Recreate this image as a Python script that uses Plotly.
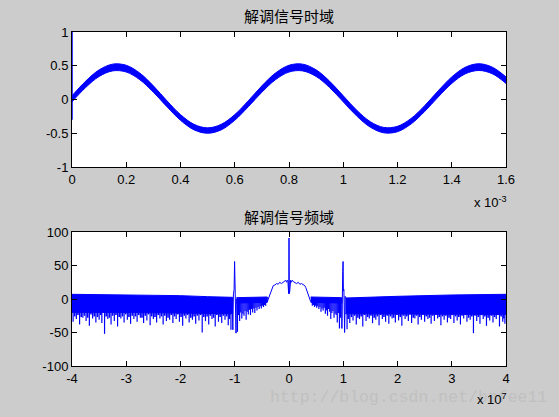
import plotly.graph_objects as go

# ---------------- top panel: demodulated signal, time domain (x in units of 1e-3 s)
t_ms = [0.00, 0.05, 0.10, 0.15, 0.20, 0.25, 0.30, 0.35, 0.40, 0.45, 0.50, 0.55, 0.60,
        0.65, 0.70, 0.75, 0.80, 0.85, 0.90, 0.95, 1.00, 1.05, 1.10, 1.15, 1.20, 1.25,
        1.30, 1.35, 1.40, 1.45, 1.50, 1.55, 1.60]
sig_upper = [0.055, 0.270, 0.439, 0.524, 0.507, 0.391, 0.202, -0.019, -0.224, -0.368, -0.420,
             -0.368, -0.224, -0.019, 0.202, 0.391, 0.507, 0.524, 0.439, 0.270, 0.055, -0.160,
             -0.329, -0.414, -0.397, -0.281, -0.092, 0.129, 0.334, 0.478, 0.530, 0.478, 0.334]
sig_lower = [-0.035, 0.176, 0.341, 0.424, 0.407, 0.293, 0.108, -0.107, -0.308, -0.450, -0.500,
             -0.450, -0.308, -0.107, 0.108, 0.293, 0.407, 0.424, 0.341, 0.176, -0.035, -0.246,
             -0.411, -0.494, -0.477, -0.363, -0.178, 0.037, 0.238, 0.380, 0.430, 0.380, 0.238]
start_t = [0.0, 0.0]
start_v = [-0.30, 1.0]
top_xticks = [0, 0.2, 0.4, 0.6, 0.8, 1.0, 1.2, 1.4, 1.6]
top_xlabels = ["0", "0.2", "0.4", "0.6", "0.8", "1", "1.2", "1.4", "1.6"]
top_yticks = [-1, -0.5, 0, 0.5, 1]
top_ylabels = ["-1", "-0.5", "0", "0.5", "1"]

# ---------------- bottom panel: spectrum (x in units of 1e7 Hz)
left_x = [-4.0, -3.0, -2.0, -1.5, -1.04]
left_top = [7, 6.5, 5, 3.5, 2.5]
left_bot = [-20, -20, -21, -21, -22]
midl_x = [-0.97, -0.7, -0.40]
midl_top = [2, 3, 3]
midl_bot = [-6, -6, -5]
midr_x = [0.40, 0.7, 0.97]
midr_top = [3, 3, 2]
midr_bot = [-5, -6, -6]
right_x = [1.04, 1.5, 2.0, 3.0, 4.0]
right_top = [1.5, 3, 4, 6, 7]
right_bot = [-22, -22, -22, -23, -23]

fringe_left_x = [-3.98, -3.92, -3.86, -3.80, -3.74, -3.68, -3.62, -3.56, -3.50, -3.45, -3.40,
                 -3.34, -3.28, -3.22, -3.16, -3.10, -3.04, -2.98, -2.92, -2.86, -2.80, -2.74,
                 -2.68, -2.62, -2.56, -2.50, -2.44, -2.38, -2.32, -2.26, -2.20, -2.14, -2.08,
                 -2.02, -1.96, -1.90, -1.84, -1.78, -1.72, -1.66, -1.60, -1.54, -1.48, -1.42,
                 -1.36, -1.30, -1.24, -1.18, -1.12, -1.07]
fringe_left_y = [-34, -30, -38, -28, -33, -40, -29, -35, -31, -36, -52, -30, -38, -33, -41, -29,
                 -35, -31, -37, -30, -34, -28, -36, -32, -39, -30, -35, -29, -38, -33, -31, -36,
                 -30, -34, -40, -29, -35, -31, -37, -32, -50, -33, -38, -30, -41, -34, -36, -31,
                 -39, -46]
fringe_left2_x = [-3.95, -3.89, -3.83, -3.77, -3.71, -3.65, -3.59, -3.53, -3.47, -3.37, -3.31,
                  -3.25, -3.19, -3.13, -3.07, -3.01, -2.95, -2.89, -2.83, -2.77, -2.71, -2.65,
                  -2.59, -2.53, -2.47, -2.41, -2.35, -2.29, -2.23, -2.17, -2.11, -2.05, -1.99,
                  -1.93, -1.87, -1.81, -1.75, -1.69, -1.63, -1.57, -1.51, -1.45, -1.39, -1.33,
                  -1.27, -1.21, -1.15, -1.10]
fringe_left2_y = [-26, -24, -27, -25, -28, -23, -26, -27, -24, -26, -28, -25, -24, -27, -26,
                  -23, -27, -25, -26, -24, -28, -25, -23, -26, -27, -24, -26, -25, -28, -24,
                  -26, -23, -27, -25, -24, -28, -26, -25, -24, -27, -26, -25, -28, -24, -27,
                  -25, -26, -30]
fringe_midl_x = [-0.95, -0.93, -0.91, -0.89, -0.87, -0.85, -0.83, -0.81, -0.79, -0.77, -0.75,
                 -0.73, -0.71, -0.69, -0.67, -0.65, -0.63, -0.61, -0.59, -0.57, -0.55, -0.53,
                 -0.51, -0.49, -0.47, -0.45, -0.43]
fringe_midl_y = [-49, -24, -33, -20, -29, -22, -25, -18, -31, -19, -23, -16, -24, -15, -20,
                 -14, -21, -13, -17, -12, -15, -11, -14, -10, -12, -9, -10]
fringe_midr_x = [0.43, 0.45, 0.47, 0.49, 0.51, 0.53, 0.55, 0.57, 0.59, 0.61, 0.63, 0.65, 0.67,
                 0.69, 0.71, 0.73, 0.75, 0.77, 0.79, 0.81, 0.83, 0.85, 0.87, 0.89, 0.91, 0.93,
                 0.95]
fringe_midr_y = [-10, -9, -12, -10, -13, -11, -15, -12, -19, -14, -17, -13, -22, -17, -25,
                 -15, -19, -30, -21, -18, -28, -22, -24, -35, -21, -44, -28]
fringe_right_x = [1.07, 1.12, 1.18, 1.24, 1.30, 1.36, 1.42, 1.48, 1.54, 1.60, 1.66, 1.72, 1.78,
                  1.84, 1.90, 1.96, 2.02, 2.08, 2.14, 2.20, 2.26, 2.32, 2.38, 2.44, 2.50, 2.56,
                  2.62, 2.68, 2.74, 2.80, 2.86, 2.92, 2.98, 3.04, 3.10, 3.16, 3.22, 3.28, 3.34,
                  3.40, 3.46, 3.52, 3.58, 3.64, 3.70, 3.76, 3.82, 3.88, 3.94, 3.98]
fringe_right_y = [-45, -36, -32, -38, -30, -41, -33, -29, -36, -31, -39, -30, -34, -37, -29,
                  -35, -32, -40, -30, -33, -36, -29, -38, -31, -34, -30, -37, -33, -29, -39,
                  -31, -35, -30, -36, -32, -38, -29, -34, -31, -51, -33, -37, -30, -40, -32,
                  -35, -30, -41, -34, -37]
fringe_right2_x = [1.09, 1.15, 1.21, 1.27, 1.33, 1.39, 1.45, 1.51, 1.57, 1.63, 1.69, 1.75, 1.81,
                   1.87, 1.93, 1.99, 2.05, 2.11, 2.17, 2.23, 2.29, 2.35, 2.41, 2.47, 2.53, 2.59,
                   2.65, 2.71, 2.77, 2.83, 2.89, 2.95, 3.01, 3.07, 3.13, 3.19, 3.25, 3.31, 3.37,
                   3.43, 3.49, 3.55, 3.61, 3.67, 3.73, 3.79, 3.85, 3.91, 3.96]
fringe_right2_y = [-30, -27, -25, -28, -26, -24, -27, -25, -28, -26, -24, -27, -25, -26, -28,
                   -24, -27, -25, -26, -23, -28, -25, -27, -24, -26, -28, -25, -24, -27, -26,
                   -25, -28, -24, -26, -27, -25, -24, -28, -26, -25, -27, -24, -26, -28, -25,
                   -27, -24, -26, -29]

near_m1_x = [-1.05, -1.035, -1.025, -1.012, -1.003, -0.997, -0.99, -0.985, -0.977, -0.97]
near_m1_y = [2, -46, 6, 14, 56, 12, 41, 20, -51, 0]
near_p1_x = [0.97, 0.975, 0.982, 0.99, 0.997, 1.003, 1.012, 1.025, 1.035, 1.05]
near_p1_y = [0, -44, -8, 41, 56, 12, 14, -50, 4, 2]

center_x = [-0.40, -0.37, -0.35, -0.33, -0.31, -0.29, -0.26, -0.23, -0.20, -0.17, -0.14, -0.11,
            -0.08, -0.06, -0.045, -0.03, -0.02, -0.012, -0.006, -0.003, 0.0, 0.003, 0.006,
            0.012, 0.02, 0.03, 0.045, 0.06, 0.08, 0.11, 0.14, 0.17, 0.20, 0.23, 0.26, 0.29,
            0.31, 0.33, 0.35, 0.37, 0.40]
center_y = [-4, 3, 9, 12, 17, 20, 21, 23, 22, 25, 23, 25, 26, 28, 25, 28, 26, 10, 8, 30, 91,
            30, 8, 10, 26, 28, 25, 28, 26, 25, 23, 25, 22, 23, 21, 20, 17, 12, 9, 3, -4]

bot_xticks = [-4, -3, -2, -1, 0, 1, 2, 3, 4]
bot_xlabels = ["-4", "-3", "-2", "-1", "0", "1", "2", "3", "4"]
bot_yticks = [-100, -50, 0, 50, 100]
bot_ylabels = ["-100", "-50", "0", "50", "100"]

BLUE = "#0000ff"
W, H = 559, 417

fig = go.Figure()

# top panel
fig.add_trace(go.Scatter(x=t_ms, y=sig_upper, mode="lines", line=dict(color=BLUE, width=1, shape="spline"),
                         xaxis="x", yaxis="y", hoverinfo="skip"))
fig.add_trace(go.Scatter(x=t_ms, y=sig_lower, mode="lines", line=dict(color=BLUE, width=1, shape="spline"),
                         fill="tonexty", fillcolor=BLUE, xaxis="x", yaxis="y", hoverinfo="skip"))
fig.add_trace(go.Scatter(x=start_t, y=start_v, mode="lines", line=dict(color=BLUE, width=1.5),
                         xaxis="x", yaxis="y", hoverinfo="skip"))


def band(xs, top, bot):
    return go.Scatter(x=xs + xs[::-1], y=top + bot[::-1], mode="lines", fill="toself",
                      fillcolor=BLUE, line=dict(color=BLUE, width=1), xaxis="x2", yaxis="y2",
                      hoverinfo="skip")


def fringe(xs, ys, base, width=1.2):
    px, py = [], []
    for x, y in zip(xs, ys):
        px += [x, x, None]
        py += [base, y, None]
    return go.Scatter(x=px, y=py, mode="lines", line=dict(color=BLUE, width=width),
                      xaxis="x2", yaxis="y2", hoverinfo="skip")


fig.add_trace(band(left_x, left_top, left_bot))
fig.add_trace(band(midl_x, midl_top, midl_bot))
fig.add_trace(band(midr_x, midr_top, midr_bot))
fig.add_trace(band(right_x, right_top, right_bot))
fig.add_trace(fringe(fringe_left_x, fringe_left_y, -18))
fig.add_trace(fringe(fringe_left2_x, fringe_left2_y, -18, 1.6))
fig.add_trace(fringe(fringe_midl_x, fringe_midl_y, -4))
fig.add_trace(fringe(fringe_midr_x, fringe_midr_y, -4))
fig.add_trace(fringe(fringe_right_x, fringe_right_y, -18))
fig.add_trace(fringe(fringe_right2_x, fringe_right2_y, -18, 1.6))
for xs, ys in [(near_m1_x, near_m1_y), (near_p1_x, near_p1_y), (center_x, center_y)]:
    fig.add_trace(go.Scatter(x=xs, y=ys, mode="lines", line=dict(color=BLUE, width=1),
                             xaxis="x2", yaxis="y2", hoverinfo="skip"))

tickfont = dict(family="Liberation Sans, Arial, sans-serif", size=13, color="black")
axis_common = dict(showline=True, linecolor="black", linewidth=1, mirror="ticks", ticks="inside",
                   ticklen=5, tickcolor="black", showgrid=False, zeroline=False, tickfont=tickfont,
                   automargin=False)

xdom = [72 / W, 506 / W]
fig.update_layout(
    width=W, height=H, margin=dict(l=0, r=0, t=0, b=0, autoexpand=False),
    paper_bgcolor="#cccccc", plot_bgcolor="white", showlegend=False,
    xaxis=dict(domain=xdom, range=[0, 1.6], tickvals=top_xticks, ticktext=top_xlabels,
               anchor="y", **axis_common),
    yaxis=dict(domain=[1 - 167 / H, 1 - 32 / H], range=[-1, 1], tickvals=top_yticks,
               ticktext=top_ylabels, anchor="x", **axis_common),
    xaxis2=dict(domain=xdom, range=[-4, 4], tickvals=bot_xticks, ticktext=bot_xlabels,
                anchor="y2", **axis_common),
    yaxis2=dict(domain=[1 - 366 / H, 1 - 232 / H], range=[-100, 100], tickvals=bot_yticks,
                ticktext=bot_ylabels, anchor="x2", **axis_common),
)

cjk = dict(family="Noto Sans CJK SC", size=15, color="black")
lab = dict(family="Liberation Sans, Arial, sans-serif", size=13, color="black")
fig.add_annotation(text="http://blog.csdn.net/bzfee11", x=268 / W, y=1 - 397 / H, xref="paper",
                   yref="paper", showarrow=False, xanchor="left", yanchor="middle",
                   font=dict(family="Liberation Mono, monospace", size=16.5, color="#c0c0c0"))
fig.add_annotation(text="解调信号时域", x=289 / W, y=1 - 16 / H, xref="paper", yref="paper",
                   showarrow=False, font=cjk, xanchor="center", yanchor="middle")
fig.add_annotation(text="解调信号频域", x=289 / W, y=1 - 216 / H, xref="paper", yref="paper",
                   showarrow=False, font=cjk, xanchor="center", yanchor="middle")
fig.add_annotation(text="x 10<sup>-3</sup>", x=472 / W, y=1 - 202 / H, xref="paper", yref="paper",
                   showarrow=False, font=lab, xanchor="left", yanchor="middle")
fig.add_annotation(text="x 10<sup>7</sup>", x=475 / W, y=1 - 399 / H, xref="paper", yref="paper",
                   showarrow=False, font=lab, xanchor="left", yanchor="middle")

fig.write_html("out.html", config={"displayModeBar": False},
               post_script="document.body.style.margin='0';document.body.style.overflow='hidden';"
                           "document.body.style.background='#cccccc';")
